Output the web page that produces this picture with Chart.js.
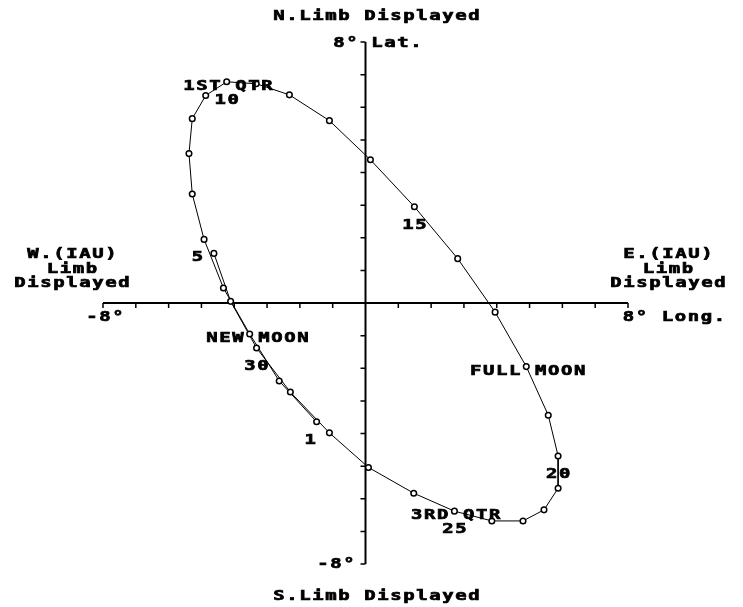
<!DOCTYPE html>
<html>
<head>
<meta charset="utf-8">
<title>Libration</title>
<script src="https://cdn.jsdelivr.net/npm/chart.js@4/dist/chart.umd.min.js"></script>
<style>
  html, body { margin: 0; padding: 0; background: #fff; }
  #wrap { width: 743px; height: 607px; }
</style>
</head>
<body>
<div id="wrap"><canvas id="chartLibration" width="743" height="607"></canvas></div>
<script>
// Libración diaria (grados)
const days = [1, 2, 3, 4, 5, 6, 7, 8, 9, 10, 11, 12, 13, 14, 15, 16,
              17, 18, 19, 20, 21, 22, 23, 24, 25, 26, 27, 28, 29, 30, 31, 32];
const longitude = [-1.49, -2.63, -3.53, -4.33, -4.92, -5.28, -5.38, -5.28, -4.87, -4.23, -3.33, -2.32,
                   -1.10, 0.15, 1.49, 2.81, 3.95, 4.90, 5.57, 5.87, 5.87, 5.44, 4.80, 3.85,
                   2.71, 1.47, 0.09, -1.10, -2.29, -3.32, -4.11, -4.62];
const latitude = [-3.64, -2.39, -0.95, 0.46, 1.95, 3.34, 4.58, 5.65, 6.36, 6.78, 6.72, 6.38,
                  5.59, 4.39, 2.95, 1.36, -0.28, -1.95, -3.44, -4.69, -5.68, -6.34, -6.68, -6.68,
                  -6.38, -5.83, -5.04, -3.98, -2.73, -1.38, 0.05, 1.52];

// Etiquetas numéricas y fases
const labelDays = [1, 5, 10, 15, 20, 25, 30];
const phaseNames = ['NEW MOON', '1ST QTR', 'FULL MOON', '3RD QTR'];
const phaseDays = [3, 10, 18, 25];

const axisMin = -8;
const axisMax = 8;

const CELL = 13; // ancho de cada caracter (fuente tipo bitmap)

function wideText(ctx, str, x, baseline, align) {
    const w = str.length * CELL;
    let x0 = x;
    if (align === 'center') x0 = x - w / 2;
    else if (align === 'right') x0 = x - w;
    ctx.save();
    ctx.font = 'bold 14px "DejaVu Sans Mono"';
    ctx.textAlign = 'center';
    ctx.textBaseline = 'alphabetic';
    ctx.fillStyle = '#000';
    ctx.strokeStyle = '#000';
    ctx.lineWidth = 0.7;
    for (let i = 0; i < str.length; i++) {
        if (str[i] === ' ') continue;
        ctx.save();
        ctx.translate(x0 + CELL * i + CELL / 2, baseline);
        ctx.scale(1.35, 1);
        ctx.fillText(str[i], 0, 0);
        ctx.strokeText(str[i], 0, 0);
        ctx.restore();
    }
    ctx.restore();
}

// Ejes cruzados en el origen con marcas cada grado
const crossAxes = {
    id: 'crossAxes',
    beforeDatasetsDraw(chart) {
        const ctx = chart.ctx;
        const X = v => chart.scales.x.getPixelForValue(v);
        const Y = v => chart.scales.y.getPixelForValue(v);
        ctx.save();
        ctx.strokeStyle = '#000';
        ctx.lineWidth = 2;
        ctx.beginPath();
        ctx.moveTo(X(axisMin), Y(0));
        ctx.lineTo(X(axisMax), Y(0));
        ctx.moveTo(X(0), Y(axisMax));
        ctx.lineTo(X(0), Y(axisMin));
        ctx.stroke();
        ctx.lineWidth = 1.5;
        ctx.beginPath();
        for (let v = axisMin; v <= axisMax; v++) {
            if (v === 0) continue;
            ctx.moveTo(X(v), Y(0));
            ctx.lineTo(X(v), Y(0) + 5);
            ctx.moveTo(X(0), Y(v));
            ctx.lineTo(X(0) - 5, Y(v));
        }
        ctx.stroke();
        ctx.restore();
    },
    afterDatasetsDraw(chart) {
        const ctx = chart.ctx;
        const X = v => chart.scales.x.getPixelForValue(v);
        const Y = v => chart.scales.y.getPixelForValue(v);
        const cx = X(0), cy = Y(0);

        // Textos de los ejes
        wideText(ctx, 'N.Limb Displayed', cx + 11, 20, 'center');
        wideText(ctx, 'S.Limb Displayed', cx + 11, 600, 'center');
        wideText(ctx, '8°', cx - 7, Y(axisMax) + 5, 'right');
        wideText(ctx, 'Lat.', cx + 5, Y(axisMax) + 5, 'left');
        wideText(ctx, '-8°', cx - 10, Y(axisMin) + 4, 'right');
        wideText(ctx, '-8°', X(axisMin) + 2, cy + 18, 'center');
        wideText(ctx, '8° Long.', X(axisMax) - 6, cy + 18, 'left');

        wideText(ctx, 'W.(IAU)', 72, 258, 'center');
        wideText(ctx, 'Limb', 72, 273, 'center');
        wideText(ctx, 'Displayed', 72, 287, 'center');
        wideText(ctx, 'E.(IAU)', 668, 258, 'center');
        wideText(ctx, 'Limb', 668, 273, 'center');
        wideText(ctx, 'Displayed', 668, 287, 'center');

        // Números de día
        labelDays.forEach(d => {
            const i = days.indexOf(d);
            const px = X(longitude[i]), py = Y(latitude[i]);
            wideText(ctx, String(d).padEnd(2, ' '), px, py + 22, 'center');
        });

        // Fases lunares
        phaseNames.forEach((name, k) => {
            const i = days.indexOf(phaseDays[k]);
            const px = X(longitude[i]), py = Y(latitude[i]);
            const idx = name.indexOf(' ');
            wideText(ctx, name, px - (idx + 0.4) * CELL, py + 8, 'left');
        });
    }
};

const ctx = document.getElementById('chartLibration');
new Chart(ctx, {
    type: 'scatter',
    data: {
        datasets: [{
            label: 'Libration',
            data: days.map((d, i) => ({ x: longitude[i], y: latitude[i] })),
            showLine: true,
            borderColor: '#000',
            borderWidth: 1,
            tension: 0,
            pointRadius: 2.8,
            pointBorderWidth: 1.5,
            pointBackgroundColor: '#fff',
            pointBorderColor: '#000'
        }]
    },
    options: {
        responsive: false,
        animation: false,
        layout: { padding: { left: 103, right: 115, top: 42, bottom: 43 } },
        plugins: {
            legend: { display: false },
            tooltip: { enabled: false }
        },
        scales: {
            x: { type: 'linear', min: axisMin, max: axisMax, display: false },
            y: { type: 'linear', min: axisMin, max: axisMax, display: false }
        }
    },
    plugins: [crossAxes]
});
</script>
</body>
</html>
